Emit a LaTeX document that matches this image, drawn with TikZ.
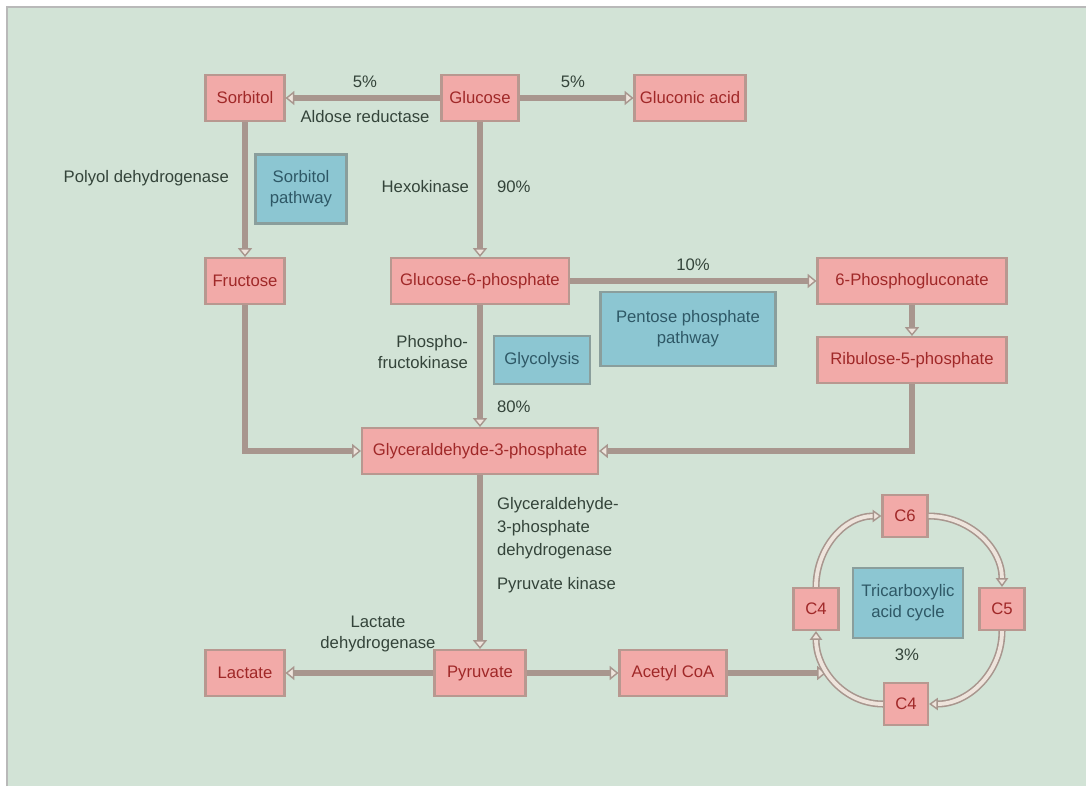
\documentclass[tikz,border=0pt]{standalone}
\usepackage{fontspec}
\setmainfont{Liberation Sans}
\usetikzlibrary{arrows.meta}
\definecolor{bg}{HTML}{D2E3D6}
\definecolor{pinkf}{HTML}{F2AAA8}
\definecolor{pinkd}{HTML}{B89890}
\definecolor{redt}{HTML}{A02828}
\definecolor{bluef}{HTML}{8CC6D2}
\definecolor{blued}{HTML}{8A9E9C}
\definecolor{bluet}{HTML}{2E5866}
\definecolor{labt}{HTML}{34443A}
\definecolor{connc}{HTML}{A8968E}
\definecolor{tipf}{HTML}{EEE4DC}
\begin{document}
\begin{tikzpicture}[x=0.02cm,y=-0.02cm,
  font=\fontsize{9.5}{12}\selectfont,
  met/.style={draw=pinkd, line width=1.2pt, fill=pinkf, text=redt,
    minimum width=#1*0.02cm, minimum height=0.92cm, inner xsep=0pt, inner ysep=1pt},
  met/.default=79,
  pw/.style={draw=blued, line width=1.2pt, fill=bluef, text=bluet, align=center, inner sep=1pt},
  lab/.style={text=labt, inner sep=1pt},
  conn/.style={draw=connc, line width=3.6pt,
    -{Triangle[length=5pt,width=8pt,line width=0.8pt,fill=tipf]}},
  cyc/.style={draw=connc, line width=0.9pt, double=tipf, double distance=2.2pt,
    -{Triangle[length=5pt,width=7pt,line width=0.8pt,fill=tipf]}}]
\useasboundingbox (0,0) rectangle (1086,788);
% background
\fill[white] (0,0) rectangle (1086,788);
\fill[bg] (7,7) rectangle (1086,786);
\draw[gray!55, line width=1.2pt] (7,786) -- (7,7) -- (1086,7);

% pathway boxes
\node[pw, minimum width=91*0.02cm, minimum height=69*0.02cm] (sp) at (301,189) {Sorbitol\\pathway};
\node[pw, minimum width=175*0.02cm, minimum height=74*0.02cm] (ppp) at (688,329) {Pentose phosphate\\pathway};
\node[pw, minimum width=96*0.02cm, minimum height=48*0.02cm] (gly) at (542,360) {Glycolysis};
\node[pw, minimum width=110*0.02cm, minimum height=70*0.02cm] (tca) at (908,603) {Tricarboxylic\\acid cycle};

% metabolites
\node[met=79] (sorb) at (245,98) {Sorbitol};
\node[met=77] (glc) at (480,98) {Glucose};
\node[met=111] (glcn) at (690,98) {Gluconic acid};
\node[met=79] (fruc) at (245,281) {Fructose};
\node[met=178] (g6p) at (480,281) {Glucose-6-phosphate};
\node[met=189] (pg6) at (912,281) {6-Phosphogluconate};
\node[met=189] (rib) at (912,360) {Ribulose-5-phosphate};
\node[met=236] (g3p) at (480,451) {Glyceraldehyde-3-phosphate};
\node[met=79] (lac) at (245,673) {Lactate};
\node[met=91] (pyr) at (480,673) {Pyruvate};
\node[met=107] (aco) at (673,673) {Acetyl CoA};
\node[met=45, minimum height=42*0.02cm] (c6) at (905,516) {C6};
\node[met=45, minimum height=42*0.02cm] (c5) at (1002,609) {C5};
\node[met=44, minimum height=42*0.02cm] (c4b) at (906,704) {C4};
\node[met=45, minimum height=42*0.02cm] (c4l) at (816,609) {C4};

% connectors
\draw[conn] (glc) -- (sorb);
\draw[conn] (glc) -- (glcn);
\draw[conn] (sorb) -- (fruc);
\draw[conn] (glc) -- (g6p);
\draw[conn] (g6p) -- (pg6);
\draw[conn] (pg6) -- (rib);
\draw[conn] (rib.south) |- (g3p.east);
\draw[conn] (fruc.south) |- (g3p.west);
\draw[conn] (g6p) -- (g3p);
\draw[conn] (g3p) -- (pyr);
\draw[conn] (pyr) -- (lac);
\draw[conn] (pyr) -- (aco);
\coordinate (tcain) at (826,673);
\draw[conn] (aco) -- (tcain);

% cycle
\draw[cyc] (c4l.north) to[out=90,in=180] (c6.west);
\draw[cyc] (c6.east) to[out=0,in=90] (c5.north);
\draw[cyc] (c5.south) to[out=-90,in=0] (c4b.east);
\draw[cyc] (c4b.west) to[out=180,in=-90] (c4l.south);

% labels
\node[lab] (l5a) at (365,82) {5\%};
\node[lab] (l5b) at (573,82) {5\%};
\node[lab] (lar) at (365,117) {Aldose reductase};
\node[lab, anchor=east] (lpd) at (231,178) {Polyol dehydrogenase};
\node[lab, anchor=east] (lhk) at (471,187) {Hexokinase};
\node[lab, anchor=west] (l90) at (495,187) {90\%};
\node[lab] (l10) at (693,265) {10\%};
\node[lab, anchor=east, align=right] (lpfk) at (470,352) {Phospho-\\fructokinase};
\node[lab, anchor=west] (l80) at (495,407) {80\%};
\node[lab, anchor=west, align=left, font=\fontsize{9.5}{13}\selectfont] (lgd) at (495,528) {Glyceraldehyde-\\3-phosphate\\dehydrogenase};
\node[lab, anchor=west] (lpk) at (495,585) {Pyruvate kinase};
\node[lab, align=center] (lld) at (378,634) {Lactate\\dehydrogenase};
\node[lab] (l3) at (907,655) {3\%};
\end{tikzpicture}
\end{document}
